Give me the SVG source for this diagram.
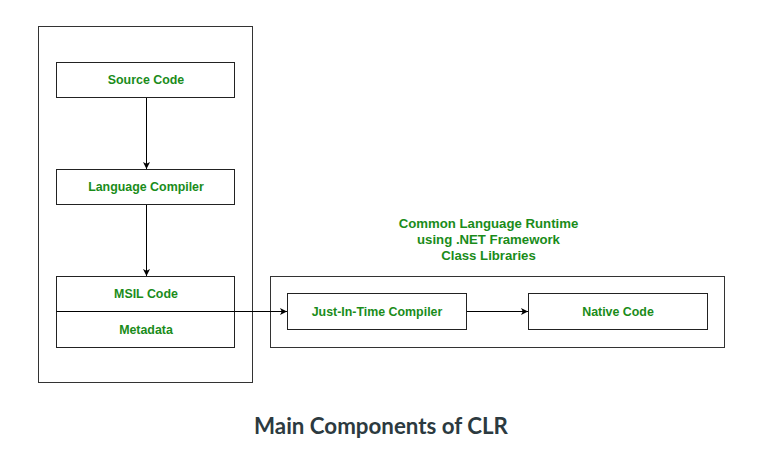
<svg xmlns="http://www.w3.org/2000/svg" width="769" height="457" viewBox="0 0 769 457">
<style>
.box{fill:#fff;stroke:#222;stroke-width:1}
.outer{fill:none;stroke:#333;stroke-width:1}
.lbl{font-family:"Liberation Sans",Arial,sans-serif;font-size:12.4px;font-weight:bold;fill:#1a8c1a;text-anchor:middle}
.hdr{font-size:13.2px}
.edge{fill:none;stroke:#000;stroke-width:1}
.title{font-family:Lato,"Noto Sans",sans-serif;font-size:22.3px;font-weight:bold;fill:#2c3a40;text-anchor:middle}
</style>
<defs>
<marker id="arr" viewBox="0 0 10 10" refX="10" refY="5" markerWidth="7" markerHeight="7" orient="auto" markerUnits="userSpaceOnUse">
<path d="M0,0 L10,5 L0,10 L2.5,5 Z" fill="#000"/>
</marker>
</defs>
<rect width="769" height="457" fill="#fff"/>
<g id="clr-left">
<rect class="outer" x="38.5" y="26.5" width="214" height="356"/>
</g>
<g id="clr-right">
<rect class="outer" x="270.5" y="276.5" width="454" height="71"/>
<text class="lbl hdr" x="488.5" y="228">Common Language Runtime</text>
<text class="lbl hdr" x="488.5" y="244">using .NET Framework</text>
<text class="lbl hdr" x="488.5" y="260">Class Libraries</text>
</g>
<g id="source-code">
<rect class="box" x="56.5" y="62.5" width="178" height="35"/>
<text class="lbl" x="146" y="84">Source Code</text>
</g>
<g id="language-compiler">
<rect class="box" x="56.5" y="169.5" width="178" height="35"/>
<text class="lbl" x="146" y="191">Language Compiler</text>
</g>
<g id="msil">
<rect class="box" x="56.5" y="276.5" width="178" height="71"/>
<line class="edge" x1="56.5" y1="311.5" x2="234.5" y2="311.5"/>
<text class="lbl" x="146" y="298">MSIL Code</text>
<text class="lbl" x="146" y="334">Metadata</text>
</g>
<g id="jit">
<rect class="box" x="287.5" y="293.5" width="179" height="36"/>
<text class="lbl" x="377" y="316">Just-In-Time Compiler</text>
</g>
<g id="native-code">
<rect class="box" x="528.5" y="293.5" width="179" height="36"/>
<text class="lbl" x="618" y="316">Native Code</text>
</g>
<g id="connectors">
<line class="edge" x1="146.5" y1="98" x2="146.5" y2="169" marker-end="url(#arr)"/>
<line class="edge" x1="146.5" y1="205" x2="146.5" y2="276" marker-end="url(#arr)"/>
<line class="edge" x1="234.5" y1="311.5" x2="287" y2="311.5" marker-end="url(#arr)"/>
<line class="edge" x1="467" y1="311.5" x2="528" y2="311.5" marker-end="url(#arr)"/>
</g>
<text class="title" x="381" y="434">Main Components of CLR</text>
</svg>
